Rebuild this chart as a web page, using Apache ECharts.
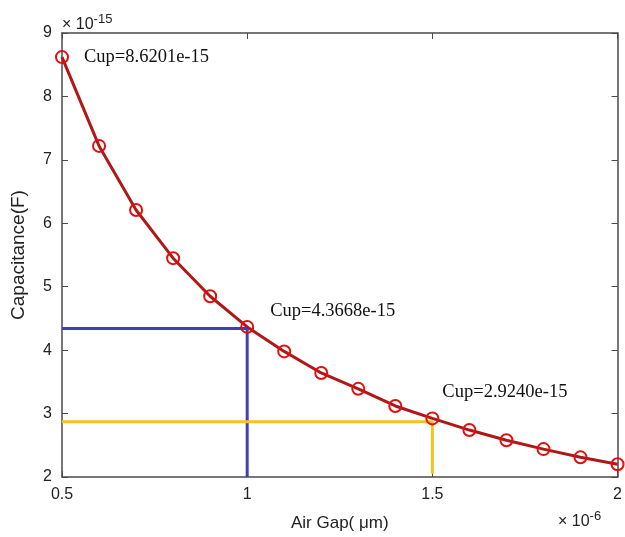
<!DOCTYPE html>
<html>
<head>
<meta charset="utf-8">
<script src="https://cdn.jsdelivr.net/npm/echarts@6/dist/echarts.min.js"></script>
<style>
  html, body { margin: 0; padding: 0; background: #fff; }
  #chart { width: 625px; height: 537px; }
</style>
</head>
<body>
<div id="chart"></div>
<script>
// air gap in units of 1e-6 m, capacitance in units of 1e-15 F
var gaps = [0.5, 0.6, 0.7, 0.8, 0.9, 1.0, 1.1, 1.2, 1.3, 1.4, 1.5, 1.6, 1.7, 1.8, 1.9, 2.0]
var caps = [8.6201, 7.22, 6.21, 5.45, 4.85, 4.3668, 3.98, 3.64, 3.39, 3.12, 2.924, 2.74, 2.58, 2.44, 2.31, 2.20]
// annotated points (index into gaps/caps)
var notes = [0, 5, 10]
var noteText = ['Cup=8.6201e-15', 'Cup=4.3668e-15', 'Cup=2.9240e-15']
// guide lines
var blueLine = [[0.5, 4.34], [1.0, 4.34], [1.0, 2.0]]
var yellowLine = [[0.5, 2.87], [1.5, 2.87], [1.5, 2.05]]

var noteOffsets = [[13, 0], [14, -16], [1, -26]]

var points = gaps.map(function (g, i) {
  var item = { value: [g, caps[i]] }
  var k = notes.indexOf(i)
  if (k >= 0) {
    item.label = {
      show: true,
      position: 'right',
      distance: 2,
      offset: noteOffsets[k],
      formatter: noteText[k],
      fontFamily: 'Liberation Serif',
      fontSize: 18.5,
      color: '#111'
    }
  }
  return item
})

var axisColor = '#4a4a4a'
var myChart = echarts.init(document.getElementById('chart'))
myChart.setOption({
  animation: false,
  grid: { left: 62, right: 4, top: 33, bottom: 60 },
  textStyle: { fontFamily: 'Liberation Sans' },
  xAxis: [{
    type: 'value',
    min: 0.5,
    max: 2,
    interval: 0.5,
    name: 'Air Gap( μm)',
    nameLocation: 'middle',
    nameGap: 38,
    nameTextStyle: { fontSize: 17, color: '#222' },
    axisLine: { show: true, lineStyle: { color: axisColor, width: 1.5 } },
    axisTick: { inside: true, length: 6, lineStyle: { color: axisColor } },
    axisLabel: { fontSize: 16, color: '#222', margin: 10 },
    splitLine: { show: false }
  }, {
    type: 'value',
    position: 'top',
    min: 0.5,
    max: 2,
    interval: 0.5,
    axisLine: { show: true, lineStyle: { color: axisColor, width: 1.5 } },
    axisTick: { inside: true, length: 6, lineStyle: { color: axisColor } },
    axisLabel: { show: false },
    splitLine: { show: false }
  }],
  yAxis: [{
    type: 'value',
    min: 2,
    max: 9,
    interval: 1,
    name: 'Capacitance(F)',
    nameLocation: 'middle',
    nameGap: 34,
    nameTextStyle: { fontSize: 19, color: '#222' },
    axisLine: { show: true, lineStyle: { color: axisColor, width: 1.5 } },
    axisTick: { inside: true, length: 6, lineStyle: { color: axisColor } },
    axisLabel: { fontSize: 16, color: '#222', margin: 10 },
    splitLine: { show: false }
  }, {
    type: 'value',
    position: 'right',
    min: 2,
    max: 9,
    interval: 1,
    axisLine: { show: true, lineStyle: { color: axisColor, width: 1.5 } },
    axisTick: { inside: true, length: 6, lineStyle: { color: axisColor } },
    axisLabel: { show: false },
    splitLine: { show: false }
  }],
  series: [{
    name: 'blue',
    type: 'line',
    data: blueLine,
    symbol: 'none',
    lineStyle: { color: '#3f3fb8', width: 3 },
    z: 1
  }, {
    name: 'yellow',
    type: 'line',
    data: yellowLine,
    symbol: 'none',
    lineStyle: { color: '#f4c41c', width: 3 },
    z: 1
  }, {
    name: 'Cup',
    type: 'line',
    data: points,
    symbol: 'circle',
    symbolSize: 12,
    itemStyle: { color: 'rgba(0,0,0,0)', borderColor: '#e01010', borderWidth: 2 },
    lineStyle: { color: '#b01818', width: 3 },
    z: 3
  }],
  graphic: [{
    type: 'text',
    left: 62,
    top: 13,
    style: {
      text: '× 10{s|-15}',
      fontSize: 16,
      fontFamily: 'Liberation Sans',
      fill: '#222',
      rich: { s: { fontSize: 13, padding: [0, 0, 10, 0] } }
    }
  }, {
    type: 'text',
    left: 558,
    top: 510,
    style: {
      text: '× 10{s|-6}',
      fontSize: 16,
      fontFamily: 'Liberation Sans',
      fill: '#222',
      rich: { s: { fontSize: 13, padding: [0, 0, 10, 0] } }
    }
  }]
})
</script>
</body>
</html>
